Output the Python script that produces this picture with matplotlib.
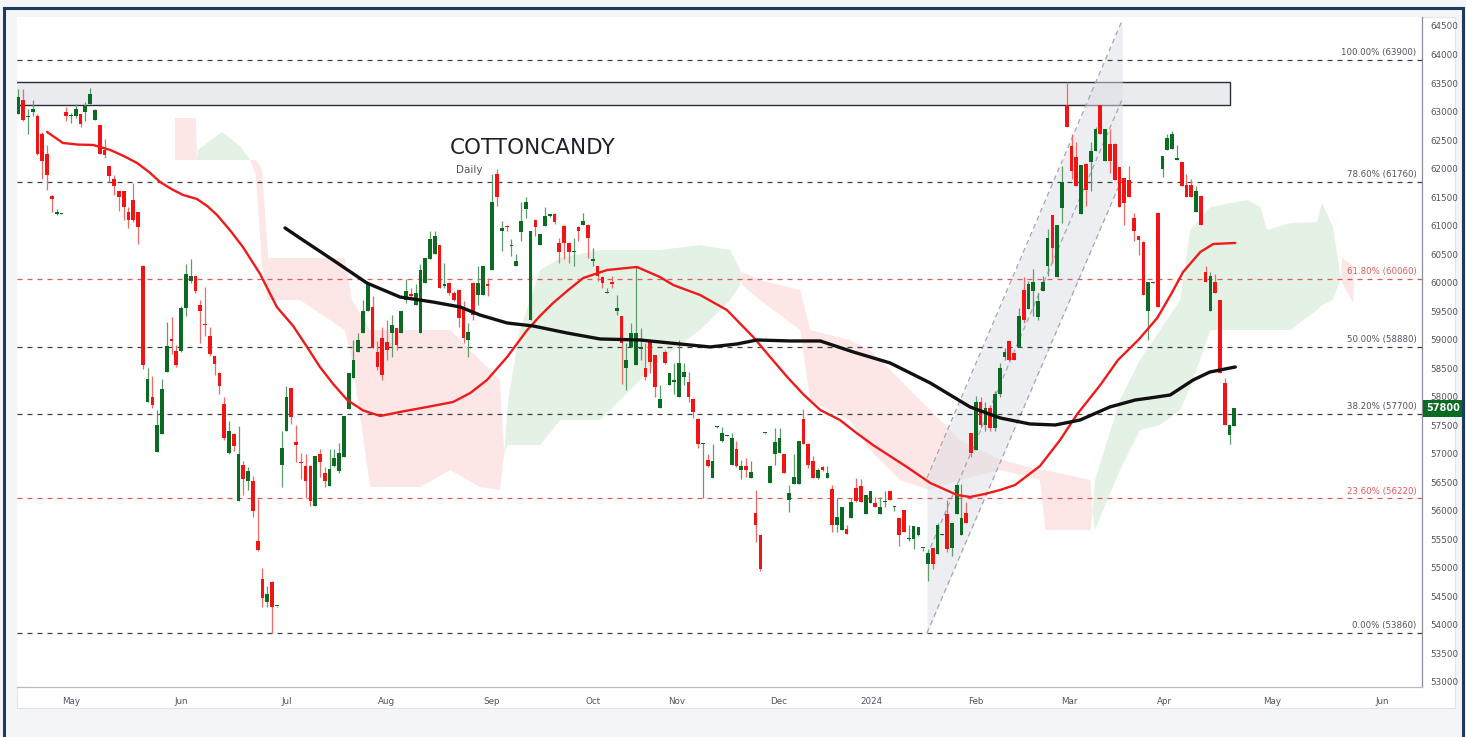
import matplotlib.pyplot as plt
import numpy as np
from matplotlib.patches import Rectangle
from matplotlib.lines import Line2D
import matplotlib.transforms as mtransforms

# ---- daily OHLC, one entry per bar (bar index = position) ----
opens = [62950, 63200, 62900, 63000, 62920, 62600, 62260, 61520, 61200, 61210,
         63000, 62920, 62920, 62950, 63000, 63140, 62860, 62770, 62330, 62040,
         61810, 61600, 61600, 61230, 61450, 61230, 60300, 57900, 58000, 57030,
         57350, 58440, 59010, 58800, 58800, 59560, 60030, 60110, 59610, 59280,
         59060, 58710, 58420, 57880, 57020, 57350, 56170, 56810, 56530, 56520,
         55480, 54800, 54400, 54760, 54330, 56800, 57400, 58150, 57200, 56850,
         56790, 56790, 56090, 57000, 56670, 56440, 56790, 56690, 56950, 57790,
         58320, 58790, 59110, 59500, 59580, 58790, 59030, 58960, 59110, 59200,
         59110, 59700, 59800, 59610, 59110, 60000, 60410, 60500, 60660, 59940,
         60000, 59810, 59880, 59580, 59000, 60000, 59790, 59790, 59970, 60230,
         61910, 60910, 61000, 60640, 60290, 60890, 61300, 59350, 61100, 60660,
         61000, 61160, 61210, 60700, 61000, 60700, 60530, 60970, 61010, 61010,
         60380, 60290, 60100, 59820, 60010, 59500, 59410, 58500, 58880, 58560,
         58840, 58500, 58970, 58730, 57800, 58790, 58210, 58260, 57990, 58350,
         58260, 57960, 57610, 57170, 56900, 56580, 57470, 57230, 57320, 56810,
         57080, 56710, 56780, 56580, 55970, 55570, 57360, 56490, 56990, 57020,
         56990, 56190, 56470, 56470, 57610, 57180, 56870, 56580, 56760, 56580,
         56390, 55760, 55660, 55680, 55870, 56400, 56430, 55950, 56130, 56130,
         55950, 56150, 56350, 56070, 55880, 56010, 55500, 55500, 55570, 55340,
         55070, 55350, 55250, 55580, 55950, 55350, 55950, 55580, 55960, 57360,
         57060, 57900, 57500, 57800, 57450, 58050, 58700, 58970, 58760, 58880,
         59880, 59540, 59850, 59400, 59850, 60290, 61180, 60100, 61310, 63110,
         62400, 62200, 61200, 62080, 62110, 62300, 63110, 62140, 62430, 62430,
         62020, 61830, 61800, 61140, 60810, 60720, 59510, 60000, 61220, 62000,
         62320, 62350, 62150, 62110, 61710, 61710, 61230, 61520, 60180, 59500,
         60010, 59690, 58240, 57330, 57490]
highs = [63400, 63400, 63050, 63200, 62950, 62640, 62420, 61530, 61290, 61220,
         63080, 62980, 63130, 62960, 63170, 63420, 63050, 62770, 62510, 62050,
         61890, 61610, 61610, 61320, 61750, 61240, 60310, 58510, 58370, 57770,
         58310, 59310, 59390, 58900, 59590, 60320, 60410, 60120, 59700, 59930,
         59220, 58720, 58430, 58000, 57580, 57360, 57490, 56880, 56770, 56610,
         56200, 54990, 54680, 54770, 54340, 57400, 58190, 58160, 57500, 57020,
         57000, 56800, 56970, 57090, 56760, 57090, 57090, 57190, 57670, 58410,
         59000, 59110, 59700, 59990, 59760, 58970, 59230, 59350, 59440, 59210,
         59500, 60060, 59910, 59970, 60320, 60440, 60910, 60910, 60660, 60340,
         60010, 59850, 59890, 59670, 59290, 60010, 60290, 60290, 60080, 61910,
         62000, 61080, 61010, 60760, 60500, 61410, 61500, 60910, 61110, 60850,
         61320, 61210, 61220, 60790, 61010, 60710, 60790, 61000, 61220, 61020,
         60610, 60300, 60110, 59910, 60110, 59790, 59420, 58940, 59290, 60290,
         59200, 58950, 59000, 58740, 58200, 58820, 58410, 58590, 59000, 58590,
         58440, 57970, 57620, 57190, 56990, 57170, 57490, 57470, 57330, 57370,
         57230, 56900, 56930, 56870, 56370, 55580, 57370, 56780, 57460, 57460,
         57000, 56460, 56990, 57230, 57790, 57190, 56960, 56750, 56780, 56780,
         56460, 56220, 56070, 55750, 56220, 56580, 56550, 56280, 56350, 56250,
         56250, 56340, 56350, 56080, 55880, 56020, 55750, 55740, 55720, 55350,
         55330, 55350, 55780, 55590, 56190, 55780, 56490, 56470, 56160, 57360,
         58020, 58000, 57900, 57850, 58100, 58600, 58850, 58990, 58770, 59560,
         60100, 60030, 60240, 59820, 60110, 60940, 61190, 61010, 62050, 63520,
         62610, 62460, 62060, 62090, 62470, 62730, 63110, 62690, 62700, 62440,
         62030, 61840, 62050, 61220, 60820, 60730, 60010, 60010, 61230, 62220,
         62610, 62650, 62410, 62120, 61910, 61820, 61690, 61530, 60290, 60190,
         60160, 59700, 58330, 57510, 57800]
lows = [62950, 62830, 62600, 62920, 62230, 61820, 61630, 61230, 61190, 61200,
        62830, 62800, 62880, 62730, 62840, 63130, 62850, 62250, 62190, 61760,
        61540, 61250, 61100, 60960, 61070, 60670, 58490, 57900, 57800, 57030,
        57350, 58440, 58750, 58530, 58780, 59420, 60000, 59810, 58950, 59060,
        58710, 58380, 58050, 57240, 56990, 57050, 56170, 56280, 56360, 55890,
        55300, 54320, 54320, 53860, 54320, 56420, 57400, 57520, 56850, 56550,
        56230, 56090, 56090, 56590, 56410, 56440, 56770, 56670, 56950, 57790,
        58320, 58790, 59110, 59500, 58850, 58470, 58300, 58640, 58700, 58820,
        59110, 59640, 59700, 59610, 59110, 60000, 60410, 60500, 59910, 59910,
        59790, 59670, 59230, 58940, 58700, 59350, 59600, 59790, 59760, 60230,
        61350, 60550, 60910, 60470, 60290, 60730, 61140, 59350, 60820, 60660,
        61000, 61150, 61030, 60340, 60410, 60350, 60290, 60730, 61010, 60440,
        60290, 60030, 59910, 59810, 59910, 59440, 58230, 58110, 58870, 58560,
        58640, 58290, 58410, 57990, 57800, 58580, 58200, 58050, 57990, 58200,
        57900, 57630, 57110, 56220, 56760, 56580, 57460, 57200, 57310, 56810,
        56760, 56550, 56600, 56580, 55460, 54950, 57350, 56490, 56810, 57020,
        56660, 55980, 56470, 56470, 57170, 56750, 56580, 56550, 56700, 56580,
        55630, 55630, 55660, 55590, 55870, 56160, 56160, 55950, 56130, 56070,
        55950, 56070, 56190, 56000, 55390, 55630, 55480, 55330, 55560, 55300,
        54770, 54980, 55250, 55570, 55280, 55200, 55950, 55580, 55780, 56950,
        57060, 57450, 57400, 57400, 57400, 58000, 58650, 58620, 58640, 58880,
        59290, 59540, 59410, 59350, 59850, 60110, 60350, 60100, 61050, 62730,
        61820, 61700, 61200, 61350, 61610, 62300, 62610, 62140, 61930, 61800,
        61320, 61010, 61510, 60730, 60480, 59790, 59000, 59990, 59580, 61850,
        62320, 62350, 62150, 61700, 61510, 61510, 61230, 61010, 60010, 59500,
        59820, 58420, 57510, 57180, 57490]
closes = [63250, 62860, 62920, 63040, 62260, 62140, 61880, 61460, 61240, 61215,
          62920, 62930, 63050, 62780, 63090, 63310, 63030, 62260, 62230, 61870,
          61690, 61510, 61320, 61100, 61100, 60980, 58560, 58310, 57850, 57500,
          58130, 58890, 58970, 58560, 59560, 60160, 60120, 59850, 59500, 59250,
          58750, 58580, 58190, 57270, 57400, 57140, 56990, 56550, 56690, 55990,
          55320, 54480, 54540, 54320, 54330, 57110, 57990, 57650, 57150, 56840,
          56530, 56170, 56970, 56850, 56530, 56730, 56920, 57010, 57660, 58410,
          58640, 59000, 59500, 59980, 58850, 58530, 58380, 58820, 59260, 58910,
          59500, 59850, 59760, 59820, 60230, 60440, 60760, 60810, 59910, 59980,
          59820, 59690, 59380, 59030, 59130, 59440, 60000, 60290, 59940, 61410,
          61500, 60950, 60970, 60650, 60380, 61080, 61410, 60910, 60980, 60850,
          61170, 61200, 61070, 60530, 60700, 60530, 60540, 60910, 61080, 60790,
          60410, 60110, 60000, 59840, 59970, 59560, 58940, 58640, 59110, 59110,
          58880, 58350, 58610, 58170, 57960, 58590, 58410, 58290, 58590, 58440,
          57990, 57730, 57170, 57180, 56780, 56870, 57480, 57370, 57325, 57280,
          56780, 56780, 56710, 56680, 55750, 54980, 57370, 56780, 57200, 57270,
          56660, 56310, 56590, 57230, 57170, 56810, 56580, 56720, 56710, 56660,
          55760, 55900, 56070, 55590, 56160, 56170, 56160, 56280, 56350, 56070,
          56070, 56160, 56190, 56075, 55570, 55630, 55530, 55740, 55720, 55350,
          55260, 55070, 55760, 55585, 55330, 55780, 56460, 55870, 55780, 57020,
          57910, 57500, 57800, 57450, 58050, 58500, 58790, 58650, 58650, 59410,
          59350, 59970, 60010, 59670, 60010, 60790, 60610, 61010, 61770, 62730,
          61960, 61700, 62060, 61630, 62300, 62700, 62610, 62690, 62140, 61800,
          61320, 61400, 61510, 60910, 60750, 59790, 60010, 60005, 59580, 62220,
          62540, 62610, 62190, 61700, 61510, 61510, 61610, 61010, 60010, 60110,
          59820, 58420, 57510, 57510, 57800]

# moving averages (bar index, price)
red_ma_idx = [6.0, 9.3, 12.5, 15.6, 19.2, 22.0, 24.8, 27.3, 29.6, 32.0, 34.4, 37.3,
              39.5, 41.5, 44.2, 46.9, 50.5, 54.0, 57.4, 60.3, 63.0, 65.8, 68.7, 72.0,
              75.6, 79.7, 85.4, 90.8, 94.4, 97.9, 102.1, 106.3, 109.0, 111.7, 115.0,
              118.0, 123.0, 129.2, 134.0, 136.8, 142.4, 148.0, 153.5, 157.0, 160.6,
              164.0, 167.5, 171.6, 175.0, 178.5, 185.6, 190.5, 196.1, 198.8, 201.9,
              205.1, 208.2, 213.4, 217.6, 221.2, 226.0, 229.7, 234.0, 237.9, 240.8,
              243.3, 246.9, 249.6, 254.2]
red_ma_val = [62642, 62449, 62420, 62414, 62326, 62220, 62098, 61940, 61765, 61640,
              61537, 61467, 61340, 61186, 60920, 60626, 60152, 59573, 59241, 58873,
              58522, 58220, 57943, 57760, 57663, 57733, 57821, 57908, 58066, 58294,
              58697, 59171, 59420, 59644, 59880, 60082, 60222, 60275, 60100, 59959,
              59784, 59521, 59048, 58700, 58347, 58040, 57768, 57593, 57370, 57155,
              56769, 56488, 56278, 56243, 56296, 56366, 56453, 56786, 57242, 57698,
              58206, 58645, 59000, 59381, 59800, 60187, 60538, 60678, 60696]
black_ma_idx = [55.7, 58.8, 65.7, 72.8, 79.7, 86.6, 92.3, 96.4, 102.1, 107.5, 114.6,
                121.5, 129.9, 138.2, 144.5, 150.1, 154.3, 161.2, 167.5, 174.4, 182.1,
                190.5, 198.8, 205.1, 211.3, 216.6, 221.8, 228.0, 233.3, 236.4, 240.6,
                245.4, 248.9, 254.2]
black_ma_val = [60959, 60783, 60398, 59994, 59749, 59661, 59574, 59434, 59293, 59241,
                59118, 59013, 58995, 58925, 58873, 58925, 58995, 58978, 58978, 58785,
                58592, 58241, 57821, 57628, 57523, 57505, 57593, 57821, 57943, 57979,
                58031, 58294, 58434, 58522]

# ichimoku cloud (span A / span B)
cloud_idx = [32.7, 37.1, 37.3, 37.5, 42.5, 46.3, 48.4, 49.6, 50.9, 52.2, 58.8, 68.2,
             69.7, 73.5, 84.0, 90.2, 96.4, 100.6, 101.5, 102.3, 104.8, 109.0, 113.2,
             121.5, 127.8, 134.0, 142.4, 148.7, 150.8, 151.0, 151.2, 154.9, 163.3,
             165.4, 173.7, 177.9, 184.2, 190.4, 196.7, 205.1, 213.4, 214.5, 223.9,
             224.4, 224.9, 230.1, 234.3, 238.5, 242.7, 244.8, 249.0, 256.7, 259.4,
             260.9, 265.7, 271.3, 272.3, 274.6, 276.1, 276.3, 276.5, 278.8, 279.0]
span_a = [62150, 62150, 62150, 62326, 62641, 62396, 62150, 61887, 60310, 59696, 59696,
          59170, 58644, 56418, 56418, 56716, 56418, 56365, 57000, 57943, 59170, 60222,
          60432, 60573, 60573, 60573, 60660, 60573, 60222, 60100, 59959, 59696, 59170,
          57943, 57592, 57066, 56541, 56365, 56541, 56716, 56541, 55664, 55664, 56000,
          56541, 57943, 58644, 59170, 59696, 60923, 61326, 61449, 61326, 60923, 61046,
          61063, 61396, 60976, 60169, 60100, 60000, 59643, 59900]
span_b = [62886, 62886, 62150, 62150, 62150, 62150, 62150, 62150, 61975, 60432, 60432,
          60432, 59696, 59170, 59170, 59170, 58644, 58294, 57000, 57154, 57154, 57154,
          57592, 57592, 58118, 58644, 59170, 59696, 59959, 60100, 60187, 60046, 59871,
          59170, 58995, 58820, 58294, 57768, 57242, 56900, 56716, 56716, 56541, 56000,
          55664, 56716, 57417, 57505, 57768, 58171, 59170, 59170, 59170, 59170, 59170,
          59521, 59608, 59696, 60046, 60100, 60432, 60300, 59900]

# fibonacci retracement
fib_pct = ['100.00%', '78.60%', '61.80%', '50.00%', '38.20%', '23.60%', '0.00%']
fib_levels = [63900, 61760, 60060, 58880, 57700, 56220, 53860]
fib_red = [False, False, True, False, False, True, False]

# resistance zone and rising channel
zone_lo, zone_hi, zone_end = 63120, 63520, 253.1
channel_idx = [189.8, 230.6]
channel_low = [53860, 61835]
channel_high = [56576, 64605]

month_pos = [11.0, 34.0, 56.1, 77.0, 98.9, 120.0, 137.4, 158.9, 178.1, 200.1,
             219.5, 239.5, 261.9, 284.9]
month_lbl = ['May', 'Jun', 'Jul', 'Aug', 'Sep', 'Oct', 'Nov', 'Dec', '2024', 'Feb',
             'Mar', 'Apr', 'May', 'Jun']
last_price = 57800

GREEN, RED = '#0b6b22', '#f21414'
TXT = '#50535e'

W, H = 1466, 737
fig = plt.figure(figsize=(W / 100, H / 100), dpi=100)
fig.patch.set_facecolor('#f4f5f7')
fig.add_artist(Rectangle((17 / W, 1 - 708 / H), (1455 - 17) / W, (708 - 17) / H,
                         transform=fig.transFigure, facecolor='white',
                         edgecolor='#e2e4e9', lw=0.8, zorder=0))
# navy frame
for xs, ys in [([4 / W, 4 / W], [0, 1 - 8 / H]), ([1463 / W, 1463 / W], [0, 1 - 8 / H]),
               ([4 / W, 1463 / W], [1 - 8 / H, 1 - 8 / H])]:
    fig.add_artist(Line2D(xs, ys, color='#1f3a60', lw=2.2, transform=fig.transFigure))

ax = fig.add_axes([17 / W, 1 - 687 / H, (1422 - 17) / W, (687 - 17) / H])
ax.set_facecolor('white')
ax.set_xlim(-0.28, 293.2)
ax.set_ylim(52912, 64657)

# cloud
ci = np.array(cloud_idx)
sa, sb = np.array(span_a), np.array(span_b)
ax.fill_between(ci, sa, sb, where=sa >= sb, interpolate=True, color='#e4f2e6', lw=0, zorder=1)
ax.fill_between(ci, sa, sb, where=sa < sb, interpolate=True, color='#fde6e6', lw=0, zorder=1)

# zone
ax.add_patch(Rectangle((-5, zone_lo), zone_end + 5, zone_hi - zone_lo,
                       facecolor='#eaebef', edgecolor='#2a2e39', lw=1, zorder=2))

# channel
ch_mid = [(a + b) / 2 for a, b in zip(channel_low, channel_high)]
ax.fill_between(channel_idx, channel_low, channel_high, color='#dcdfe6', alpha=0.5, lw=0, zorder=2)
for ys in (channel_low, ch_mid, channel_high):
    ax.plot(channel_idx, ys, color='#a3a7b0', lw=0.9, dashes=(4, 3), zorder=2)

# fib lines
for pct, lvl, red in zip(fib_pct, fib_levels, fib_red):
    col = '#e05a5a' if red else '#3c3f46'
    ax.axhline(lvl, color=col, lw=0.9, dashes=(4, 4), zorder=3)
    ax.annotate(f'{pct} ({lvl})', xy=(1, lvl), xycoords=('axes fraction', 'data'),
                xytext=(-4, 2), textcoords='offset points', ha='right', va='bottom',
                fontsize=6.2, color='#e05a5a' if red else TXT)

# candles
idx = np.arange(len(opens))
o, h, l, c = map(np.array, (opens, highs, lows, closes))
up = c >= o
lo_body = np.minimum(o, c)
hb = np.maximum(np.abs(c - o), 18)
ax.vlines(idx[up], l[up], h[up], color='#5f9e6c', lw=0.9, zorder=4)
ax.vlines(idx[~up], l[~up], h[~up], color='#f06868', lw=0.9, zorder=4)
ax.bar(idx[up], hb[up], 0.78, lo_body[up], color=GREEN, lw=0, zorder=5)
ax.bar(idx[~up], hb[~up], 0.78, lo_body[~up], color=RED, lw=0, zorder=5)

# moving averages
ax.plot(red_ma_idx, red_ma_val, color='#f01a1a', lw=1.7, zorder=6,
        solid_capstyle='round', solid_joinstyle='round')
ax.plot(black_ma_idx, black_ma_val, color='#111111', lw=2.4, zorder=6,
        solid_capstyle='round', solid_joinstyle='round')

# titles
ax.text(0.367, 0.804, 'COTTONCANDY', transform=ax.transAxes, ha='center', va='center',
        fontsize=15.5, color='#1e222d')
ax.text(0.322, 0.772, 'Daily', transform=ax.transAxes, ha='center', va='center',
        fontsize=7.5, color='#555')

# axes styling
ax.yaxis.tick_right()
ax.set_yticks(range(53000, 64501, 500))
ax.set_xticks(month_pos, month_lbl)
ax.tick_params(axis='both', length=0, labelsize=6.3, labelcolor=TXT)
ax.tick_params(axis='y', pad=6)
ax.tick_params(axis='x', pad=7)
for s in ('top', 'left'):
    ax.spines[s].set_visible(False)
ax.spines['right'].set_color('#8c8f98')
ax.spines['bottom'].set_color('#b8bbc2')
ax.spines['right'].set_linewidth(0.9)
ax.spines['bottom'].set_linewidth(0.9)

tr = mtransforms.blended_transform_factory(ax.transAxes, ax.transData)
ax.text(1.003, last_price, str(last_price), transform=tr, ha='left', va='center',
        fontsize=7, color='white', fontweight='bold',
        bbox=dict(boxstyle='square,pad=0.35', fc=GREEN, ec='none'), zorder=10)

fig.savefig('out.png', dpi=100)
